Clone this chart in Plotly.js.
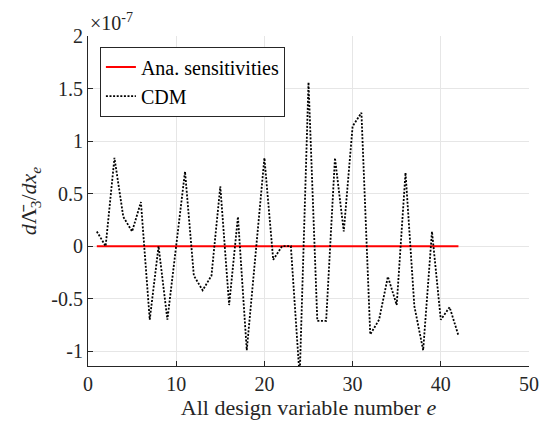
<!DOCTYPE html>
<html>
<head>
<meta charset="utf-8">
<script src="https://cdn.plot.ly/plotly-3.0.1.min.js"></script>
<style>html,body{margin:0;padding:0;background:#fff;}</style>
</head>
<body>
<div id="chart" style="width:544px;height:434px"></div>
<script>
// design variable numbers
const designVars = [1,2,3,4,5,6,7,8,9,10,11,12,13,14,15,16,17,18,19,20,21,22,23,24,25,26,27,28,29,30,31,32,33,34,35,36,37,38,39,40,41,42];
// analytical sensitivities (x 1e-7)
const anaSens = [0,0,0,0,0,0,0,0,0,0,0,0,0,0,0,0,0,0,0,0,0,0,0,0,0,0,0,0,0,0,0,0,0,0,0,0,0,0,0,0,0,0];
// central difference method (x 1e-7)
const cdmSens = [0.14,0,0.84,0.28,0.14,0.42,-0.70,0,-0.70,0,0.71,-0.28,-0.42,-0.28,0.57,-0.56,0.28,-0.99,-0.08,0.84,-0.13,0,0,-1.25,1.56,-0.71,-0.71,0.84,0.14,1.14,1.27,-0.84,-0.70,-0.29,-0.56,0.70,-0.57,-0.99,0.14,-0.70,-0.58,-0.85];
const yTicks = [-1,-0.5,0,0.5,1,1.5,2];
const yTickText = ['-1','-0.5','0','0.5','1','1.5','2'];
const xTicks = [0,10,20,30,40,50];

const traces = [
  {x: designVars, y: anaSens, type:'scatter', mode:'lines', name:'Ana. sensitivities',
   line:{color:'#ff0000', width:2}},
  {x: designVars, y: cdmSens, type:'scatter', mode:'lines', name:'CDM',
   line:{color:'#000000', width:1.8, dash:'2px,1.6px'}}
];
const layout = {
  width:544, height:434,
  margin:{l:88, r:15, t:36, b:68},
  paper_bgcolor:'#fff', plot_bgcolor:'#fff',
  font:{family:'Liberation Serif', color:'#262626', size:20},
  showlegend:true,
  legend:{x:0.027, y:0.968, xanchor:'left', yanchor:'top', bgcolor:'#fff',
    bordercolor:'#262626', borderwidth:1, tracegroupgap:0,
    font:{family:'Liberation Serif', size:20, color:'#000'}},
  xaxis:{range:[0,50], tickvals:xTicks, ticks:'inside', ticklen:5, tickcolor:'#262626',
    showline:true, linecolor:'#262626', linewidth:1, mirror:false,
    showgrid:true, gridcolor:'#e6e6e6', gridwidth:1, zeroline:false,
    tickfont:{size:20},
    title:{text:'All design variable number <i>e</i>', font:{size:22}, standoff:4}},
  yaxis:{range:[-1.14,2], tickvals:yTicks, ticktext:yTickText, ticks:'inside', ticklen:5, tickcolor:'#262626',
    showline:true, linecolor:'#262626', linewidth:1,
    showgrid:true, gridcolor:'#e6e6e6', gridwidth:1, zeroline:false,
    tickfont:{size:20},
    title:{text:'<i>d</i>Λ̄<sub>3</sub>/<i>dx<sub>e</sub></i>', font:{size:22}, standoff:8}},
  annotations:[{xref:'paper', yref:'paper', x:0, y:1, xanchor:'left', yanchor:'bottom',
    text:'×10<sup>-7</sup>', showarrow:false, font:{size:20}}]
};
Plotly.newPlot('chart', traces, layout, {displayModeBar:false});
</script>
</body>
</html>
